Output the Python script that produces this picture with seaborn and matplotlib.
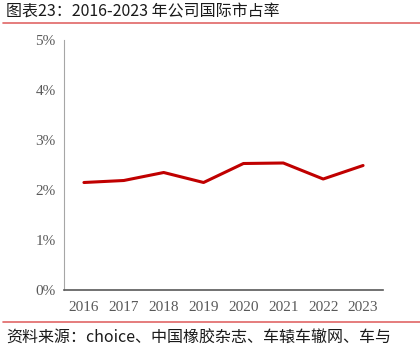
import matplotlib
matplotlib.use("Agg")
import matplotlib.pyplot as plt
import seaborn as sns
import pandas as pd
from matplotlib.lines import Line2D

years = ["2016", "2017", "2018", "2019", "2020", "2021", "2022", "2023"]
share = [2.15, 2.19, 2.35, 2.15, 2.53, 2.54, 2.22, 2.49]
yticks = [0, 1, 2, 3, 4, 5]
ytick_labels = ["0%", "1%", "2%", "3%", "4%", "5%"]
title = "图表23：2016-2023 年公司国际市占率"
source = "资料来源：choice、中国橡胶杂志、车辕车辙网、车与"

sns.set_theme(style="white")
plt.rcParams['font.family'] = ['Noto Sans CJK SC', 'DejaVu Sans']

df = pd.DataFrame({"year": years, "share": share})

fig = plt.figure(figsize=(4.2, 3.47), dpi=100)
ax = fig.add_axes([64/420, 1 - 290/347, (383-64)/420, 250/347])
sns.lineplot(data=df, x="year", y="share", ax=ax, color="#C00000", linewidth=2.2, sort=False)

ax.set_xlim(-0.5, len(years) - 0.5)
ax.set_ylim(0, 5)
ax.set_yticks(yticks)
ax.set_yticklabels(ytick_labels)
ax.set_xlabel("")
ax.set_ylabel("")
for lbl in ax.get_xticklabels() + ax.get_yticklabels():
    lbl.set_fontfamily("Liberation Serif")
    lbl.set_fontsize(11)
    lbl.set_color("#595959")
ax.tick_params(axis="both", length=0, pad=6)
ax.tick_params(axis="x", pad=8)
sns.despine(ax=ax, top=True, right=True)
ax.spines["left"].set_color("#A6A6A6")
ax.spines["left"].set_linewidth(0.8)
ax.spines["bottom"].set_color("#595959")
ax.spines["bottom"].set_linewidth(1.2)
ax.grid(False)

fig.text(6/420, 1 - 12/347, title, fontsize=11.5, fontweight="medium", color="#1a1a1a",
         va="center", ha="left", family=['Noto Sans CJK SC', 'DejaVu Sans'])
fig.add_artist(Line2D([3/420, 1.0], [1 - 23/347, 1 - 23/347], color="#E06666", linewidth=1.2,
                      transform=fig.transFigure))
fig.add_artist(Line2D([3/420, 1.0], [1 - 322/347, 1 - 322/347], color="#E06666", linewidth=1.2,
                      transform=fig.transFigure))
fig.text(6/420, 1 - 338/347, source, fontsize=11.5, color="#1a1a1a", va="center", ha="left",
         family=['Noto Sans CJK SC', 'DejaVu Sans'])

fig.savefig("out.png", dpi=100)
